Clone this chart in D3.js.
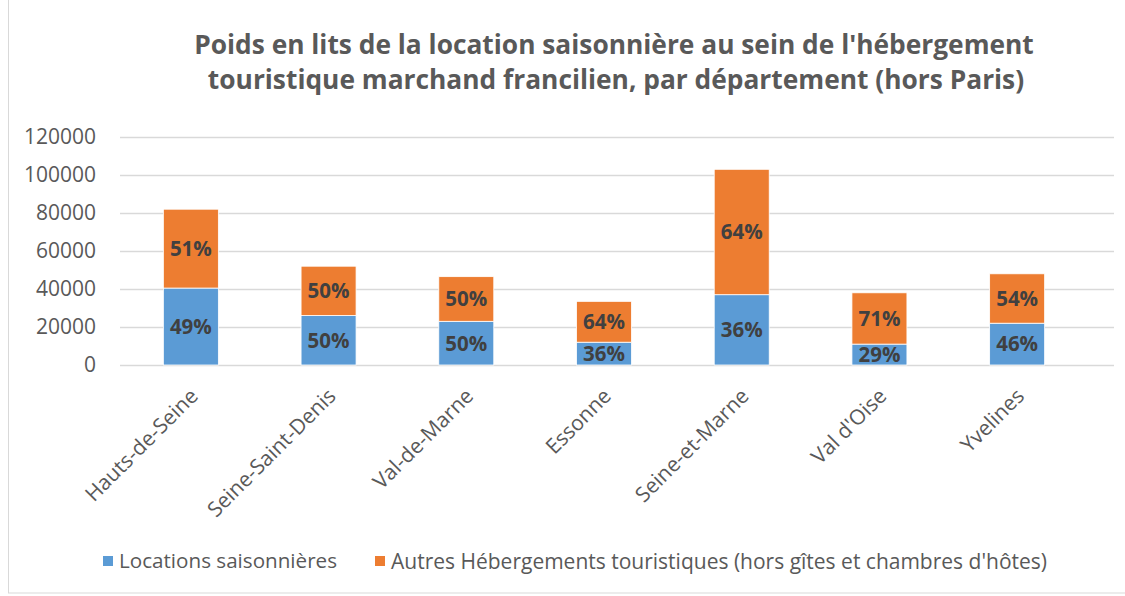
<!DOCTYPE html>
<html>
<head>
<meta charset="utf-8">
<script src="https://cdn.jsdelivr.net/npm/d3@7"></script>
<style>
  body { margin: 0; background: #fff; }
  svg { font-family: "Open Sans", sans-serif; }
</style>
</head>
<body>
<div class="chart"></div>
<script>
const departements = ["Hauts-de-Seine", "Seine-Saint-Denis", "Val-de-Marne", "Essonne", "Seine-et-Marne", "Val d'Oise", "Yvelines"];
const locations = [40500, 26000, 23000, 12000, 37000, 11000, 22000];
const autres = [41500, 26000, 23500, 21500, 66000, 27000, 26000];
const pctLocations = ["49%", "50%", "50%", "36%", "36%", "29%", "46%"];
const pctAutres = ["51%", "50%", "50%", "64%", "64%", "71%", "54%"];
const yTicks = [0, 20000, 40000, 60000, 80000, 100000, 120000];
const seriesNames = ["Locations saisonnières", "Autres Hébergements touristiques (hors gîtes et chambres d'hôtes)"];
const colors = ["#5b9bd5", "#ed7d31"];

const svg_width = 1125, svg_height = 596;
const chart_margin = {top: 137, right: 39, bottom: 231, left: 122};
const chart_width = svg_width - chart_margin.left - chart_margin.right;
const chart_height = svg_height - chart_margin.top - chart_margin.bottom;

const svg = d3.select(".chart").append("svg")
  .attr("width", svg_width).attr("height", svg_height);

// frame
svg.append("rect").attr("x", 8.5).attr("y", -2).attr("width", svg_width).attr("height", 595)
  .attr("fill", "none").attr("stroke", "#d9d9d9");

// title
const title = svg.append("text").attr("text-anchor", "middle")
  .style("font-weight", "bold").style("fill", "#595959").style("font-size", "24px");
const line1 = title.append("tspan").attr("x", 614).attr("y", 54)
  .text("Poids en lits de la location saisonnière au sein de l'hébergement");
title.append("tspan").attr("x", 616).attr("y", 89)
  .text("touristique marchand francilien, par département (hors Paris)");
const w1 = line1.node().getComputedTextLength();
title.style("font-size", (24 * 840 / w1).toFixed(2) + "px");

function fitWidth(sel, target, startSize) {
  sel.style("font-size", startSize + "px");
  const w = sel.node().getComputedTextLength();
  sel.style("font-size", (startSize * target / w).toFixed(2) + "px");
}

const g = svg.append("g").attr("transform", `translate(${chart_margin.left},${chart_margin.top})`);

const xScale = d3.scaleBand().domain(departements).range([0, 964]);
const yScale = d3.scaleLinear([0, 120000], [chart_height, 0]);
const barW = 55;

// gridlines
const yAxis = d3.axisLeft(yScale).tickValues(yTicks).tickFormat(d3.format("d"))
  .tickSize(-(chart_width + 30)).tickPadding(24);
const yAxisDraw = g.append("g").attr("class", "y axis").attr("transform", "translate(-2,0)").call(yAxis);
yAxisDraw.select(".domain").remove();
yAxisDraw.selectAll("line").attr("stroke", "#d9d9d9").attr("stroke-width", 1.5);
yAxisDraw.selectAll("text").style("font-size", "21px").style("fill", "#595959")
  .attr("font-family", "Open Sans");

const stackData = departements.map((d, i) => ({dep: d, loc: locations[i], aut: autres[i], pl: pctLocations[i], pa: pctAutres[i]}));
const stack = d3.stack().keys(["loc", "aut"])(stackData);

const layers = g.selectAll(".layer").data(stack).enter().append("g")
  .attr("class", "layer").style("fill", (d, i) => colors[i]);

layers.selectAll("rect").data(d => d).enter().append("rect")
  .attr("x", d => xScale(d.data.dep) + xScale.bandwidth() / 2 - barW / 2)
  .attr("y", d => yScale(d[1]))
  .attr("width", barW)
  .attr("height", d => yScale(d[0]) - yScale(d[1]))
  .attr("stroke", "#fff").attr("stroke-width", 0.8);

layers.selectAll("text").data((d, i) => d.map(v => ({v, i}))).enter().append("text")
  .attr("x", d => xScale(d.v.data.dep) + xScale.bandwidth() / 2)
  .attr("y", d => (yScale(d.v[0]) + yScale(d.v[1])) / 2)
  .attr("dy", "0.36em")
  .attr("text-anchor", "middle")
  .style("font-size", "20.5px").style("font-weight", "bold").style("fill", "#404040")
  .text(d => d.i === 0 ? d.v.data.pl : d.v.data.pa);

// x labels
const xAxis = d3.axisBottom(xScale).tickSize(0);
const xAxisDraw = g.append("g").attr("class", "x axis").attr("transform", `translate(0,${chart_height})`).call(xAxis);
xAxisDraw.select(".domain").remove();
xAxisDraw.selectAll("text")
  .style("font-size", "21px").style("fill", "#595959").attr("font-family", "Open Sans")
  .attr("text-anchor", "end")
  .attr("transform", "translate(-2,22) rotate(-45)")
  .attr("dy", "0.7em").attr("y", 0);

// legend
const legend = svg.append("g").attr("class", "legend");
const legX = [103, 375];
seriesNames.forEach((name, i) => {
  legend.append("rect").attr("x", legX[i]).attr("y", 556).attr("width", 10).attr("height", 10).style("fill", colors[i]);
  const t = legend.append("text").attr("x", legX[i] + 16).attr("y", 561).attr("dy", "0.36em")
    .style("fill", "#595959").text(name);
  fitWidth(t, i === 0 ? 218 : 656, 20);
});
</script>
</body>
</html>
